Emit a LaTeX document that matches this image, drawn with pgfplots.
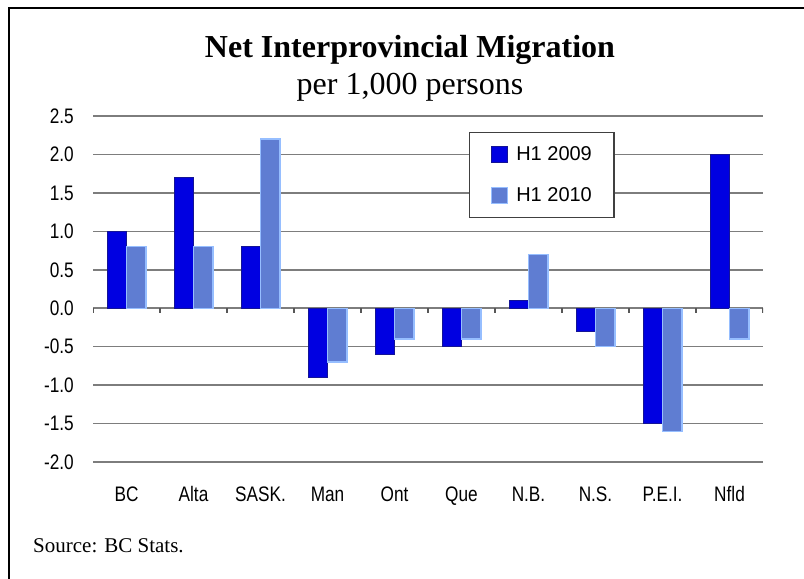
\documentclass[border=0pt]{standalone}
\usepackage{pgfplots}
\pgfplotsset{compat=1.18}
\usepackage{pgfplotstable}
\usepackage{fontspec}
\setmainfont{Liberation Serif}
\newfontfamily\narrowfont[FakeStretch=0.82]{Liberation Sans}
\newfontfamily\legfont{Liberation Sans}

\definecolor{bluea}{RGB}{0,0,225}
\definecolor{blueaedge}{RGB}{20,20,150}
\definecolor{blueb}{RGB}{95,125,210}
\definecolor{bluebedge}{RGB}{150,190,255}
\definecolor{gridc}{RGB}{125,125,125}

% net interprovincial migration per 1,000 persons
\pgfplotstableread{
idx v2009 v2010
0  1.0  0.8
1  1.7  0.8
2  0.8  2.2
3 -0.9 -0.7
4 -0.6 -0.4
5 -0.5 -0.4
6  0.1  0.7
7 -0.3 -0.5
8 -1.5 -1.6
9  2.0 -0.4
}\migr

\begin{document}
\begin{tikzpicture}[x=1bp,y=1bp]
\path[use as bounding box] (0,0) rectangle (804,579);
\draw[line width=2.5bp] (9,0) -- (9,571) -- (804,571);
\node[anchor=base, inner sep=0, font=\bfseries\fontsize{32bp}{36bp}\selectfont] at (410,521) {Net Interprovincial Migration};
\node[anchor=base, inner sep=0, font=\fontsize{32bp}{36bp}\selectfont] at (410,484) {per 1,000 persons};
\node[anchor=base west, inner sep=0, font=\fontsize{21bp}{25bp}\selectfont] at (33,26) {Source: BC Stats.};
\begin{axis}[
  at={(93bp,117bp)}, anchor=south west,
  scale only axis, width=670bp, height=346bp,
  xmin=-0.5, xmax=9.5, ymin=-2, ymax=2.5,
  xtick={0,...,9},
  xticklabels={BC,Alta,SASK.,Man,Ont,Que,N.B.,N.S.,P.E.I.,Nfld},
  ytick={-2,-1.5,-1,-0.5,0,0.5,1,1.5,2,2.5},
  yticklabels={-2.0,-1.5,-1.0,-0.5,0.0,0.5,1.0,1.5,2.0,2.5},
  ticklabel style={font=\narrowfont\fontsize{21bp}{25bp}\selectfont},
  xticklabel style={anchor=base, yshift=-40bp, inner sep=0},
  yticklabel style={anchor=east, xshift=-19bp, inner sep=0},
  major tick length=0,
  tick style={draw=none},
  axis line style={draw=none},
  ymajorgrids,
  grid style={gridc, line width=1.6bp},
  legend style={at={(0.561,0.954)}, anchor=north west, draw=black!75,
    line width=1.2bp, fill=white, inner xsep=22bp, inner ysep=13bp,
    row sep=25bp, font=\legfont\fontsize{20bp}{24bp}\selectfont,
    nodes={inner sep=0}},
  legend cell align=left,
  /tikz/every odd column/.append style={column sep=8bp},
  legend image code/.code={\draw[#1, line width=0.8bp] (0bp,-8bp) rectangle (16bp,8bp);},
]
\addplot[ybar, bar width=19.5bp, bar shift=-9.75bp, fill=bluea, draw=blueaedge, line width=0.6bp]
  table[x=idx, y=v2009]{\migr};
\addlegendentry{H1 2009}
\addplot[ybar, bar width=19.5bp, bar shift=9.75bp, fill=blueb, draw=bluebedge, line width=1.2bp]
  table[x=idx, y=v2010]{\migr};
\addlegendentry{H1 2010}
\pgfplotsinvokeforeach{-0.5,0.5,...,9.5}{
  \draw[gridc!70!black, line width=1.2bp] (axis cs:#1,0) -- ([yshift=-5bp]axis cs:#1,0);
}
\end{axis}
\end{tikzpicture}
\end{document}
